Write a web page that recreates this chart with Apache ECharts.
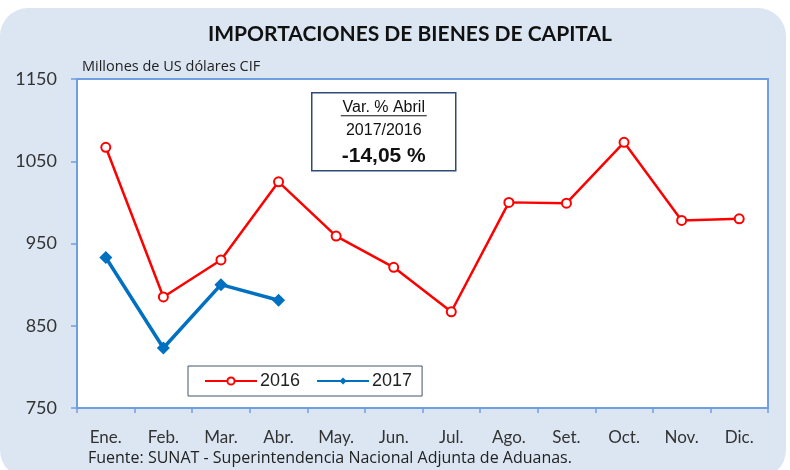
<!DOCTYPE html>
<html>
<head>
<meta charset="utf-8">
<script src="https://cdn.jsdelivr.net/npm/echarts@6/dist/echarts.min.js"></script>
<style>
  html, body { margin: 0; padding: 0; background: #ffffff; }
  #chart { width: 790px; height: 470px; }
</style>
</head>
<body>
<div id="chart"></div>
<script>
// Monthly capital goods imports, millions of US$ CIF
const months = ['Ene.', 'Feb.', 'Mar.', 'Abr.', 'May.', 'Jun.', 'Jul.', 'Ago.', 'Set.', 'Oct.', 'Nov.', 'Dic.'];
const imports2016 = [1067, 885, 930, 1025, 959, 921, 867, 1000, 999, 1073, 978, 980];
const imports2017 = [933, 823, 900, 881];
const yTicks = { min: 750, max: 1150, step: 100 };

// April year-on-year change, shown in the callout box
const aprIdx = 3;
const aprChange = (imports2017[aprIdx] / imports2016[aprIdx] - 1) * 100;
const aprChangeText = aprChange.toFixed(2).replace('.', ',') + ' %';

const axisBlue = '#6f9fe0';
const baseFont = 'Lato, "Open Sans", sans-serif';
const boxFont = 'Arial, "Liberation Sans", sans-serif';

const chart = echarts.init(document.getElementById('chart'), null, { renderer: 'canvas' });

chart.setOption({
  backgroundColor: '#ffffff',
  animation: false,
  title: {
    text: 'IMPORTACIONES DE BIENES DE CAPITAL',
    left: 203,
    top: 19,
    textStyle: { fontFamily: baseFont, fontWeight: 'bold', fontSize: 21, color: '#111111' }
  },
  legend: {
    left: 188,
    top: 366,
    orient: 'horizontal',
    backgroundColor: '#ffffff',
    borderColor: '#44546a',
    borderWidth: 1,
    borderRadius: 0,
    padding: [6, 10, 6, 16],
    itemGap: 16,
    itemWidth: 52,
    itemHeight: 9,
    textStyle: { fontFamily: boxFont, fontSize: 18, color: '#222222', padding: [0, 0, 0, -2] },
    data: ['2016', '2017']
  },
  grid: {
    left: 77, right: 22, top: 79, bottom: 62,
    show: true,
    backgroundColor: '#ffffff',
    borderColor: axisBlue,
    borderWidth: 2
  },
  xAxis: {
    type: 'category',
    data: months,
    boundaryGap: true,
    axisLine: { lineStyle: { color: axisBlue, width: 2 } },
    axisTick: { show: true, length: 5, lineStyle: { color: axisBlue, width: 1.5 } },
    axisLabel: { fontFamily: baseFont, fontSize: 17, color: '#333333', margin: 21 },
    splitLine: { show: false }
  },
  yAxis: {
    type: 'value',
    min: yTicks.min,
    max: yTicks.max,
    interval: yTicks.step,
    axisLine: { show: true, lineStyle: { color: axisBlue, width: 2 } },
    axisTick: { show: true, length: 6, lineStyle: { color: axisBlue, width: 1.5 } },
    axisLabel: { fontFamily: baseFont, fontSize: 18, color: '#333333', margin: 20, formatter: v => String(v) },
    splitLine: { show: false }
  },
  graphic: [
    {
      type: 'rect', z: -10, silent: true,
      shape: { x: 0, y: 8, width: 786, height: 470, r: 28 },
      style: { fill: '#dce6f2' }
    },
    {
      type: 'text', left: 82, top: 59,
      style: { text: 'Millones de US dólares CIF', font: '14.5px "Open Sans", sans-serif', fill: '#222222' }
    },
    {
      type: 'group', left: 311, top: 92, z: 100,
      children: [
        { type: 'rect', shape: { x: 0, y: 0, width: 144, height: 78 },
          style: { fill: '#ffffff', stroke: '#2f4a78', lineWidth: 1.5 } },
        { type: 'text', x: 72, y: 15, style: { text: 'Var. % Abril', font: '16px ' + boxFont, fill: '#111111', textAlign: 'center', textVerticalAlign: 'middle' } },
        { type: 'line', shape: { x1: 29, y1: 23, x2: 115, y2: 23 },
          style: { stroke: '#111111', lineWidth: 1 } },
        { type: 'text', x: 72, y: 38, style: { text: '2017/2016', font: '16px ' + boxFont, fill: '#111111', textAlign: 'center', textVerticalAlign: 'middle' } },
        { type: 'text', x: 72, y: 63, style: { text: aprChangeText, font: 'bold 21px ' + boxFont, fill: '#111111', textAlign: 'center', textVerticalAlign: 'middle' } }
      ]
    },
    {
      type: 'text', left: 88, top: 450,
      style: { text: 'Fuente: SUNAT - Superintendencia Nacional Adjunta de Aduanas.', font: '16px "Open Sans", sans-serif', fill: '#222222' }
    }
  ],
  series: [
    {
      name: '2016',
      type: 'line',
      data: imports2016,
      symbol: 'circle',
      symbolSize: 9,
      lineStyle: { color: '#ff0000', width: 2.5 },
      itemStyle: { color: '#ffffff', borderColor: '#ff0000', borderWidth: 2 },
      z: 3
    },
    {
      name: '2017',
      type: 'line',
      data: imports2017,
      symbol: 'diamond',
      symbolSize: 13,
      lineStyle: { color: '#0070c0', width: 3.5 },
      itemStyle: { color: '#0070c0', borderColor: '#0070c0', borderWidth: 0 },
      z: 4
    }
  ]
});
</script>
</body>
</html>
